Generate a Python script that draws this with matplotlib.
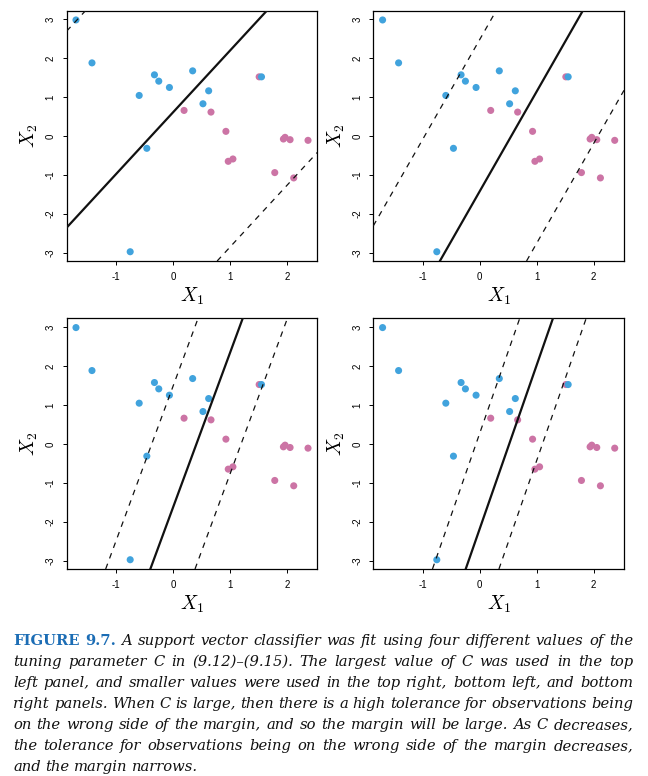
import numpy as np
import matplotlib.pyplot as plt

# observations (same in every panel)
blue_x1 = [-1.705, -1.424, -0.327, -0.251, -0.064, -0.595, 0.344, 0.625,
           0.525, 1.553, -0.461, -0.753]
blue_x2 = [2.983, 1.880, 1.573, 1.410, 1.248, 1.043, 1.675, 1.162,
           0.829, 1.521, -0.316, -2.974]
pink_x1 = [0.193, 0.666, 0.928, 0.969, 1.051, 1.512, 1.938, 1.967,
           2.055, 2.370, 1.786, 2.119]
pink_x2 = [0.658, 0.615, 0.120, -0.650, -0.590, 1.521, -0.077, -0.034,
           -0.094, -0.111, -0.940, -1.077]

# hyperplane per panel: intercept, slope, margin offset (in X2)
intercepts = [0.61, -1.42, -1.63, -2.18]
slopes = [1.586, 2.564, 3.964, 4.20]
margins = [5.05, 3.90, 3.11, 2.45]

x_ticks = [-1, 0, 1, 2]
y_ticks = [-3, -2, -1, 0, 1, 2, 3]

col_blue = '#41a3dd'
col_pink = '#cc74a5'

plt.rcParams['mathtext.fontset'] = 'cm'

fig_w_px, fig_h_px = 648, 776
fig = plt.figure(figsize=(fig_w_px / 100, fig_h_px / 100), dpi=100)

# axes boxes in pixels: left, top, right, bottom
boxes_px = [(66.7, 10.7, 317.3, 261.0),
            (373.3, 10.7, 624.0, 261.0),
            (66.7, 318.3, 317.3, 569.0),
            (373.3, 318.3, 624.0, 569.0)]

for i, (l, t, r, b) in enumerate(boxes_px):
    ax = fig.add_axes([l / fig_w_px, 1 - b / fig_h_px,
                       (r - l) / fig_w_px, (b - t) / fig_h_px])
    ax.scatter(pink_x1, pink_x2, s=26, color=col_pink, edgecolors='none',
               zorder=2)
    ax.scatter(blue_x1, blue_x2, s=26, color=col_blue, edgecolors='none',
               zorder=2)
    ax.axline((0, intercepts[i]), slope=slopes[i], color='#111111',
              lw=1.6, zorder=3)
    for sgn in (1, -1):
        ax.axline((0, intercepts[i] + sgn * margins[i]), slope=slopes[i],
                  color='#111111', lw=0.9, ls=(0, (4.5, 4.5)), zorder=3)
    ax.set_xlim(-1.868, 2.533)
    ax.set_ylim(-3.212, 3.221)
    ax.set_xticks(x_ticks)
    ax.set_yticks(y_ticks)
    ax.set_xticklabels([str(v) for v in x_ticks])
    ax.set_yticklabels([str(v) for v in y_ticks], rotation=90, va='center')
    ax.tick_params(length=3, width=0.7, labelsize=7, pad=5,
                   labelfontfamily='Liberation Sans')
    for sp in ax.spines.values():
        sp.set_linewidth(0.9)
    ax.set_xlabel(r'$X_1$', fontsize=14)
    ax.set_ylabel(r'$X_2$', fontsize=14)
    ax.xaxis.set_label_coords(0.5, -0.1)
    ax.yaxis.set_label_coords(-0.105, 0.5)

# caption, justified word by word
cap_lines = [
    'A support vector classifier was fit using four different values of the',
    'tuning parameter C in (9.12)–(9.15). The largest value of C was used in the top',
    'left panel, and smaller values were used in the top right, bottom left, and bottom',
    'right panels. When C is large, then there is a high tolerance for observations being',
    'on the wrong side of the margin, and so the margin will be large. As C decreases,',
    'the tolerance for observations being on the wrong side of the margin decreases,',
    'and the margin narrows.',
]
cap_head = ['FIGURE', '9.7.']

cap_left, cap_right = 13.0, 633.0
cap_y0, cap_dy = 641.0, 21.0
cap_size = 10.6

fig.canvas.draw()
renderer = fig.canvas.get_renderer()

for k, line in enumerate(cap_lines):
    tokens = []
    if k == 0:
        for w in cap_head:
            tokens.append(fig.text(0, 0, w, fontsize=cap_size,
                                   family='DejaVu Serif', weight='bold',
                                   color='#1c6db5', va='center'))
    for w in line.split(' '):
        tokens.append(fig.text(0, 0, w, fontsize=cap_size,
                               family='DejaVu Serif', style='italic',
                               color='#111111', va='center'))
    widths = [t.get_window_extent(renderer).width for t in tokens]
    if k < len(cap_lines) - 1:
        gap = (cap_right - cap_left - sum(widths)) / (len(tokens) - 1)
    else:
        gap = 4.5
    x = cap_left
    y = 1 - (cap_y0 + k * cap_dy) / fig_h_px
    for t, w in zip(tokens, widths):
        t.set_position((x / fig_w_px, y))
        x += w + gap

fig.savefig('out.png', dpi=100)
